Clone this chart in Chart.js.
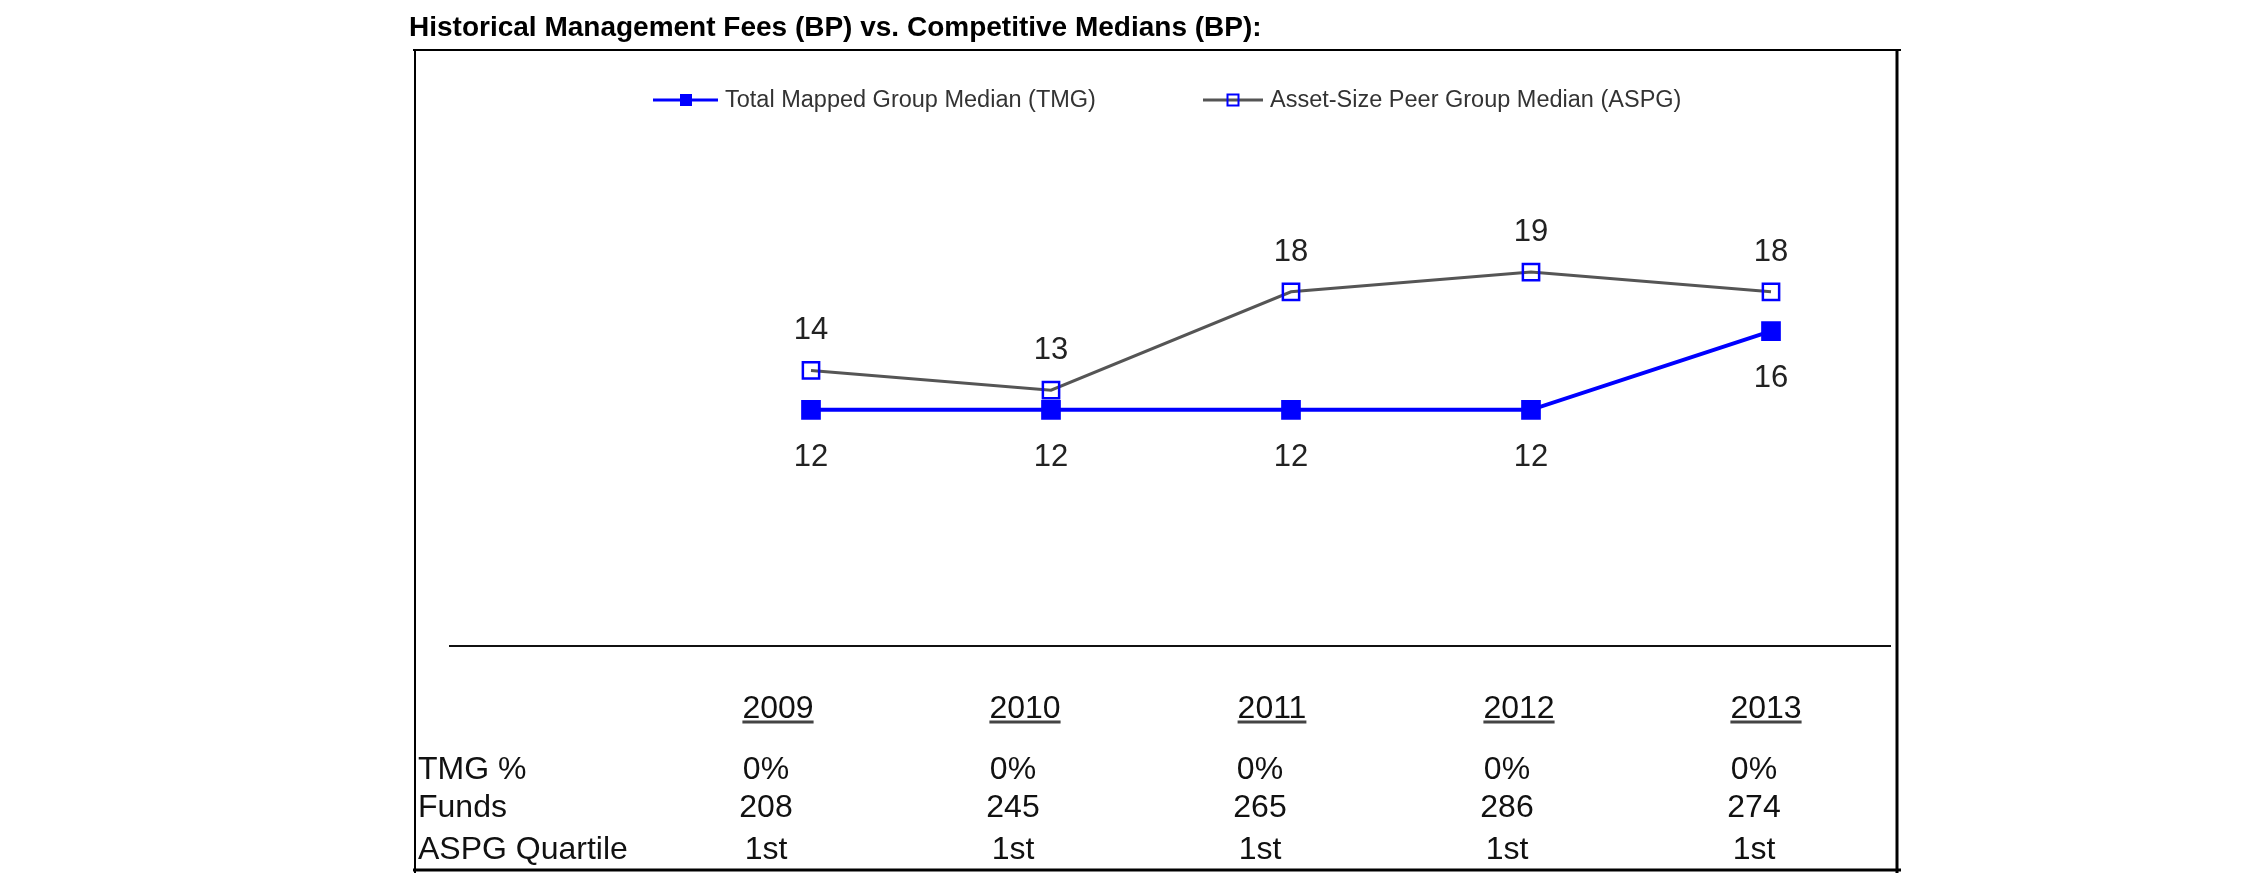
<!DOCTYPE html>
<html>
<head>
<meta charset="utf-8">
<title>Historical Management Fees</title>
<script src="https://cdn.jsdelivr.net/npm/chart.js@4.4.1/dist/chart.umd.min.js"></script>
<style>
  html, body { margin: 0; padding: 0; background: #fff; }
  canvas { display: block; }
</style>
</head>
<body>
<canvas id="grafica" width="2250" height="895"></canvas>
<script>
// datos
const years = [2009, 2010, 2011, 2012, 2013];
const tmgMedian = [12, 12, 12, 12, 16];
const aspgMedian = [14, 13, 18, 19, 18];
const tmgPercent = ['0%', '0%', '0%', '0%', '0%'];
const funds = ['208', '245', '265', '286', '274'];
const aspgQuartile = ['1st', '1st', '1st', '1st', '1st'];
const rowLabels = ['TMG %', 'Funds', 'ASPG Quartile'];
const seriesNames = ['Total Mapped Group Median (TMG)', 'Asset-Size Peer Group Median (ASPG)'];
const chartTitle = 'Historical Management Fees (BP) vs. Competitive Medians (BP):';

const FONT = '"Liberation Sans", Arial, sans-serif';
const BLUE = '#0000ff';
const GREY = '#555555';

function linea(ctx, x1, y1, x2, y2, w, color) {
    ctx.beginPath();
    ctx.lineWidth = w;
    ctx.strokeStyle = color;
    ctx.moveTo(x1, y1);
    ctx.lineTo(x2, y2);
    ctx.stroke();
}

// caja, titulo, leyenda y eje
const marcoPlugin = {
    id: 'marco',
    afterDraw(chart) {
        const ctx = chart.ctx;
        const area = chart.chartArea;
        const y0 = chart.scales.y.getPixelForValue(0);
        ctx.save();

        linea(ctx, 413, 50, 1901, 50, 2, '#000');
        linea(ctx, 415, 49, 415, 873, 2, '#000');
        linea(ctx, 1897, 49, 1897, 873, 3, '#000');
        linea(ctx, 413, 870, 1901, 870, 3, '#000');
        linea(ctx, area.left - 2, y0, area.right, y0, 2, '#111');

        ctx.fillStyle = '#000';
        ctx.font = 'bold 28px ' + FONT;
        ctx.textAlign = 'left';
        ctx.textBaseline = 'alphabetic';
        ctx.fillText(chartTitle, 409, 36);

        // leyenda
        const ly = 100;
        ctx.font = '23.5px ' + FONT;
        ctx.textBaseline = 'middle';
        linea(ctx, 653, ly, 718, ly, 3, BLUE);
        ctx.fillStyle = BLUE;
        ctx.fillRect(680, ly - 6, 12, 12);
        ctx.fillStyle = '#333';
        ctx.fillText(seriesNames[0], 725, ly + 1);

        linea(ctx, 1203, ly, 1263, ly, 3, GREY);
        ctx.strokeStyle = BLUE;
        ctx.lineWidth = 2;
        ctx.strokeRect(1227.5, ly - 5.5, 11, 11);
        ctx.fillText(seriesNames[1], 1270, ly + 1);

        // tabla
        const tbl = chart.scales.tbl;
        ctx.textBaseline = 'alphabetic';
        ctx.font = '32px ' + FONT;
        ctx.fillStyle = '#111';
        years.forEach((yr, i) => {
            const cx = tbl.getPixelForValue(i);
            ctx.textAlign = 'center';
            const txt = String(yr);
            const w = ctx.measureText(txt).width;
            ctx.fillText(txt, cx + 12, 718);
            linea(ctx, cx + 12 - w / 2, 722, cx + 12 + w / 2, 722, 3, '#444');
            ctx.fillText(tmgPercent[i], cx, 779);
            ctx.fillText(funds[i], cx, 817);
            ctx.fillText(aspgQuartile[i], cx, 859);
        });
        ctx.textAlign = 'left';
        ctx.fillText(rowLabels[0], 418, 779);
        ctx.fillText(rowLabels[1], 418, 817);
        ctx.fillText(rowLabels[2], 418, 859);

        ctx.restore();
    }
};

// etiquetas de valores
const etiquetasPlugin = {
    id: 'etiquetas',
    afterDatasetsDraw(chart) {
        const ctx = chart.ctx;
        ctx.save();
        ctx.font = '31px ' + FONT;
        ctx.fillStyle = '#222';
        ctx.textAlign = 'center';
        ctx.textBaseline = 'alphabetic';
        chart.data.datasets.forEach((ds, d) => {
            const meta = chart.getDatasetMeta(d);
            meta.data.forEach((pt, i) => {
                const dy = d === 0 ? 56 : -31;
                ctx.fillText(String(ds.data[i].y), pt.x, pt.y + dy);
            });
        });
        ctx.restore();
    }
};

new Chart('grafica', {
    type: 'line',
    data: {
        datasets: [{
            label: seriesNames[0],
            data: years.map((yr, i) => ({ x: yr, y: tmgMedian[i] })),
            borderColor: BLUE,
            backgroundColor: BLUE,
            borderWidth: 4,
            pointStyle: 'rect',
            pointRadius: 12.5,
            pointBorderWidth: 2,
            pointBorderColor: BLUE,
            pointBackgroundColor: BLUE,
            order: 2
        }, {
            label: seriesNames[1],
            data: years.map((yr, i) => ({ x: yr, y: aspgMedian[i] })),
            borderColor: GREY,
            borderWidth: 3,
            pointStyle: 'rect',
            pointRadius: 11.5,
            pointBorderWidth: 2.5,
            pointBorderColor: BLUE,
            pointBackgroundColor: 'rgba(255,255,255,0)',
            order: 1
        }]
    },
    options: {
        responsive: false,
        animation: false,
        devicePixelRatio: 1,
        layout: { padding: { left: 451, right: 359, top: 154, bottom: 249 } },
        plugins: {
            legend: { display: false },
            tooltip: { enabled: false }
        },
        scales: {
            x: { type: 'linear', min: 2007.5, max: 2013.5, display: false },
            tbl: { type: 'linear', axis: 'x', min: -1.2753, max: 4.5547, display: false },
            y: { min: 0, max: 25, display: false }
        }
    },
    plugins: [marcoPlugin, etiquetasPlugin]
});
</script>
</body>
</html>
